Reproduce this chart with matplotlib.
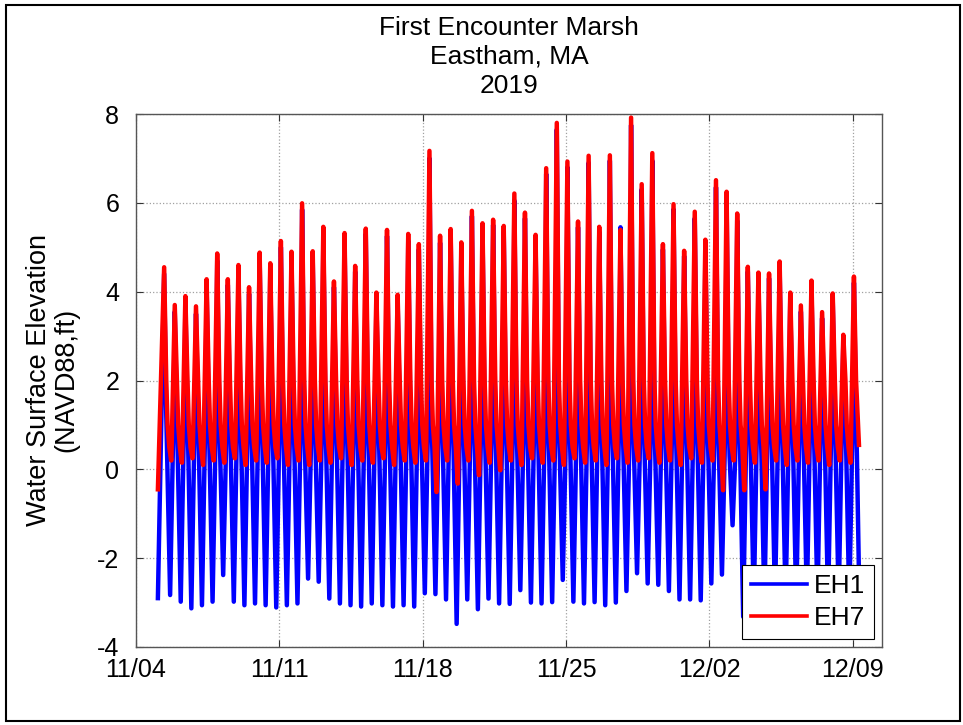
import matplotlib
matplotlib.use("Agg")
import matplotlib.pyplot as plt
import matplotlib.dates as mdates
from matplotlib.patches import Rectangle
from datetime import datetime, timedelta

plt.rcParams['font.family'] = ['Liberation Sans', 'DejaVu Sans']
plt.rcParams['axes.unicode_minus'] = False

# Timing of the record (semi-diurnal tide, one high / one low per cycle)
record_start = datetime(2019, 11, 5, 1, 40)
first_high = datetime(2019, 11, 5, 9, 0)
tide_period = 12.44  # hours between highs
record_end = datetime(2019, 12, 9, 7, 30)

# EH7 (marsh platform) high water per tide, ft NAVD88
eh7_high = [4.55, 3.70, 3.90, 3.67, 4.28, 4.86, 4.28, 4.60, 4.10, 4.88,
            4.64, 5.14, 4.90, 5.99, 4.91, 5.46, 4.23, 5.32, 4.58, 5.42,
            3.98, 5.39, 3.93, 5.30, 5.07, 7.17, 5.26, 5.41, 5.11, 5.82,
            5.54, 5.62, 5.48, 6.21, 5.78, 5.28, 6.78, 7.80, 6.93, 5.58,
            7.06, 5.46, 7.07, 5.39, 7.92, 6.42, 7.12, 5.07, 5.97, 4.92,
            5.80, 5.17, 6.51, 6.25, 5.76, 4.56, 4.43, 4.41, 4.68, 3.98,
            3.69, 4.25, 3.54, 3.96, 3.03, 4.34]
# EH7 low water between consecutive highs
eh7_low = [0.20, 0.15, 0.25, 0.10, 0.20, 0.15, 0.25, 0.10, 0.20, 0.15,
           0.25, 0.10, 0.20, 0.10, 0.20, 0.15, 0.25, 0.10, 0.20, 0.15,
           0.25, 0.10, 0.20, 0.15, 0.20, -0.51, 0.20, -0.32, 0.20, -0.13,
           0.15, -0.02, 0.20, 0.10, 0.25, 0.15, 0.20, 0.10, 0.25, 0.15,
           0.20, 0.10, 0.25, 0.15, 0.20, 0.25, 0.15, 0.20, 0.10, 0.25,
           0.15, 0.20, -0.47, 0.20, -0.47, 0.15, -0.45, 0.20, 0.10, 0.20,
           0.15, 0.20, 0.10, 0.20, 0.15]
eh7_start, eh7_end = -0.45, 0.55

# EH1 (channel) high and low water
eh1_high = [4.40, 3.55, 3.75, 3.50, 4.15, 4.70, 4.15, 4.45, 3.95, 4.75,
            4.50, 5.00, 4.75, 5.85, 4.75, 5.30, 4.10, 5.20, 4.45, 5.30,
            3.85, 5.25, 3.80, 5.15, 4.95, 7.00, 5.10, 5.30, 5.00, 5.70,
            5.40, 5.50, 5.35, 6.05, 5.65, 5.15, 6.65, 7.65, 6.80, 5.45,
            6.90, 5.35, 6.95, 5.45, 7.75, 6.30, 6.95, 4.95, 5.85, 4.80,
            5.65, 5.05, 6.35, 6.10, 5.60, 4.45, 4.30, 4.30, 4.55, 3.85,
            3.55, 4.10, 3.40, 3.85, 2.90, 4.20]
eh1_low = [-2.83, -2.98, -3.13, -3.06, -2.98, -2.38, -2.98, -3.06, -3.02, -3.06,
           -3.11, -3.06, -3.02, -2.46, -2.53, -2.91, -3.02, -3.06, -3.09, -3.02,
           -3.06, -3.09, -3.06, -3.09, -2.79, -2.81, -2.93, -3.48, -2.93, -3.15,
           -2.91, -3.02, -3.03, -2.72, -3.00, -3.02, -2.99, -2.49, -2.98, -3.02,
           -2.99, -3.06, -3.00, -2.74, -2.34, -2.57, -2.60, -2.74, -2.93, -2.93,
           -2.95, -2.57, -2.37, -1.26, -3.32, -3.00, -3.05, -2.95, -3.00, -3.05,
           -2.95, -3.00, -3.05, -2.95, -3.00]
eh1_start, eh1_end = -2.9, -2.4

xtick_dates = [datetime(2019, 11, 4), datetime(2019, 11, 11), datetime(2019, 11, 18),
               datetime(2019, 11, 25), datetime(2019, 12, 2), datetime(2019, 12, 9)]


def hrs(h):
    return timedelta(hours=h)


# EH7: flood up the marsh, quick ebb to ~2 ft then slow drainage
t7, v7 = [record_start], [eh7_start]
for k, hi in enumerate(eh7_high):
    T = first_high + hrs(k * tide_period)
    if k > 0:
        t7.append(T - hrs(4.0)); v7.append(eh7_low[k - 1])
    t7.append(T); v7.append(hi)
    t7.append(T + hrs(2.5)); v7.append(2.0)
    if k < len(eh7_low):
        t7.append(T + hrs(4.0)); v7.append(1.0)
        t7.append(T + hrs(6.0)); v7.append(0.5)
        t7.append(T + hrs(8.2)); v7.append(eh7_low[k])
    else:
        t7.append(record_end); v7.append(eh7_end)

# EH1: channel gauge drains well below the marsh
t1, v1 = [record_start], [eh1_start]
for k, hi in enumerate(eh1_high):
    T = first_high + hrs(k * tide_period)
    if k > 0:
        t1.append(T - hrs(2.4)); v1.append(0.2)
        t1.append(T - hrs(1.2)); v1.append(1.5)
    t1.append(T); v1.append(hi)
    t1.append(T + hrs(2.5)); v1.append(1.2)
    t1.append(T + hrs(3.5)); v1.append(0.3)
    if k < len(eh1_low):
        t1.append(T + hrs(7.0)); v1.append(eh1_low[k])
    else:
        t1.append(record_end); v1.append(eh1_end)

fig = plt.figure(figsize=(9.63, 7.25), dpi=100)
ax = fig.add_axes([136 / 963, 1 - 647 / 725, (882 - 136) / 963, (647 - 114) / 725])

ax.plot(t1, v1, color='#0000ff', lw=3.2, label='EH1')
ax.plot(t7, v7, color='#ff0000', lw=3.2, label='EH7')

ax.set_xlim(datetime(2019, 11, 4), datetime(2019, 12, 10, 10, 30))
ax.set_ylim(-4, 8)
ax.set_yticks([-4, -2, 0, 2, 4, 6, 8])
ax.set_xticks(xtick_dates)
ax.xaxis.set_major_formatter(mdates.DateFormatter('%m/%d'))

ax.grid(True, linestyle=':', color='#a0a0a0', linewidth=0.9)
ax.tick_params(direction='in', length=5, width=0.8, labelsize=18,
               top=True, right=True, colors='#333333', labelcolor='black')
ax.tick_params(axis='x', pad=8)
ax.tick_params(axis='y', pad=12)
for s in ax.spines.values():
    s.set_color('#555555')
    s.set_linewidth(1.0)

ax.set_title('First Encounter Marsh\nEastham, MA\n2019', fontsize=19,
             linespacing=1.28, pad=15)
fig.text(53 / 963, 1 - 380 / 725, 'Water Surface Elevation\n(NAVD88,ft)',
         rotation=90, ha='center', va='center', fontsize=19.5,
         multialignment='center', linespacing=1.05)

leg = ax.legend(loc='lower right', fontsize=19, fancybox=False, framealpha=1,
                edgecolor='black', handlelength=2.1, borderpad=0.35,
                labelspacing=0.3, handletextpad=0.25, borderaxespad=0.3)
leg.get_frame().set_linewidth(0.8)
for h in leg.get_lines():
    h.set_linewidth(2.6)

# outer frame around the whole picture
fig.patches.append(Rectangle((6 / 963, 4 / 725), 954 / 963, 716 / 725,
                             transform=fig.transFigure, fill=False,
                             edgecolor='black', lw=1.5))

fig.savefig('out.png', dpi=100)
